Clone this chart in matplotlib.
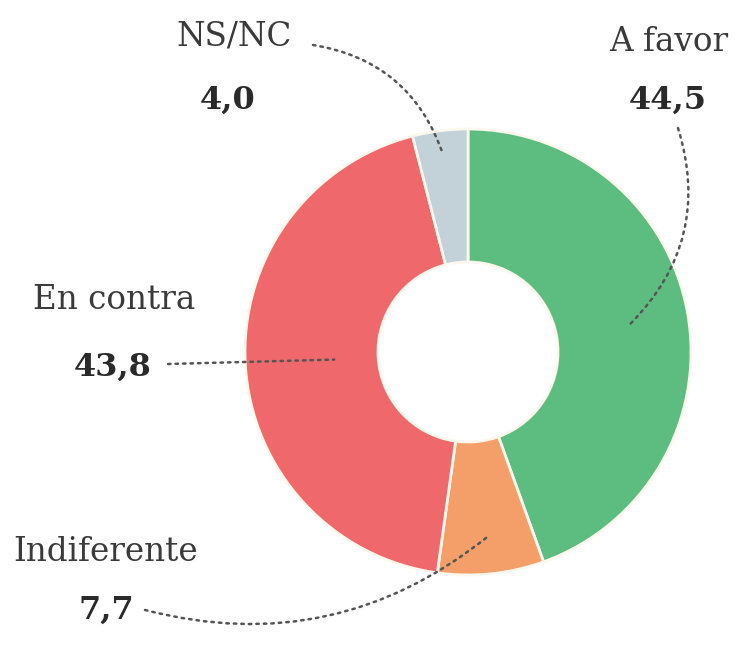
import numpy as np
import matplotlib.pyplot as plt

labels = ["A favor", "Indiferente", "En contra", "NS/NC"]
values = [44.5, 7.7, 43.8, 4.0]
value_text = ["44,5", "7,7", "43,8", "4,0"]
colors = ["#5dbd81", "#f49e6a", "#ef686c", "#c3d1d9"]

# layout, in pixel coords of a 739x645 canvas (y grows downwards)
center = (468, 352)
r_out, r_in = 223, 90
label_pos = [(669, 42), (106, 552), (114, 300), (234, 36)]
num_pos = [(668, 100), (106, 610), (113, 367), (228, 100)]
line_start = [(678, 128), (145, 610), (168, 364), (313, 45)]
point_r = [165, 186, 134, 199]
rads = [-0.3, 0.25, 0.0, -0.3]

fig = plt.figure(figsize=(7.39, 6.45), dpi=100)
ax = fig.add_axes([0, 0, 1, 1])

# y axis is inverted, so a visually clockwise pie from the top is
# counterclockwise in data angles starting at -90
wedges, _ = ax.pie(values, colors=colors, startangle=-90, counterclock=True,
                   center=center, radius=r_out,
                   wedgeprops=dict(width=r_out - r_in, edgecolor="#fdf8ee", linewidth=2))
ax.set_xlim(0, 739)
ax.set_ylim(645, 0)
ax.set_aspect("equal")
ax.axis("off")

font = "DejaVu Serif"
for i, w in enumerate(wedges):
    mid = np.deg2rad((w.theta1 + w.theta2) / 2)
    tx = center[0] + point_r[i] * np.cos(mid)
    ty = center[1] + point_r[i] * np.sin(mid)
    ax.text(*label_pos[i], labels[i], ha="center", va="center",
            fontsize=23.5, family=font, color="#3a3a3a")
    ax.text(*num_pos[i], value_text[i], ha="center", va="center",
            fontsize=23, family=font, fontweight="bold", color="#2a2a2a")
    ax.annotate("", xy=(tx, ty), xytext=line_start[i],
                arrowprops=dict(arrowstyle="-", color="#555555", lw=1.8,
                                linestyle=(0, (1, 2)),
                                connectionstyle=f"arc3,rad={rads[i]}",
                                shrinkA=0, shrinkB=0))

fig.savefig("out.png", dpi=100)
